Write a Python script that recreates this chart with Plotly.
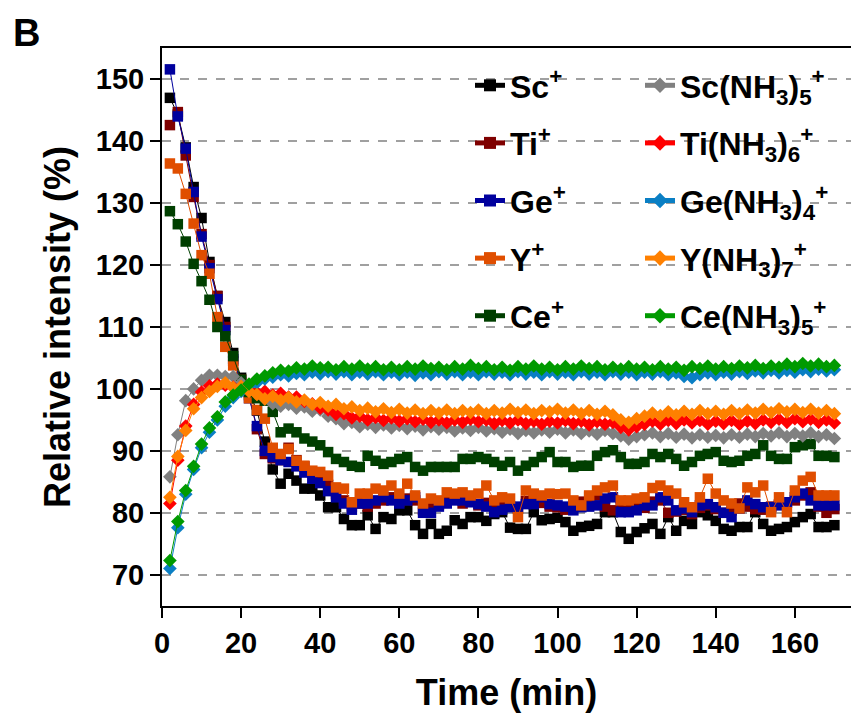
import plotly.graph_objects as go

# Sampling times (min)
time_min = list(range(2, 172, 2))

# Relative intensities (%) of the bare ions
sc_ion = [147.0, 144.3, 139.0, 132.6, 127.6, 120.5, 115.0, 110.8, 105.8, 101.8,
          99.5, 96.5, 91.5, 87.0, 84.7, 86.3, 85.2, 83.9, 83.9, 82.8,
          80.9, 80.9, 79.0, 78.0, 78.0, 79.6, 77.4, 79.3, 79.0, 80.4,
          80.4, 78.0, 76.6, 78.2, 76.6, 77.1, 78.8, 78.2, 79.3, 79.3,
          78.7, 79.8, 80.1, 77.6, 77.4, 77.4, 80.1, 78.8, 79.0, 79.2,
          78.5, 77.1, 77.7, 77.9, 78.2, 80.1, 80.1, 76.9, 75.8, 76.9,
          77.5, 78.2, 76.6, 79.3, 77.1, 78.7, 78.2, 80.1, 79.6, 78.7,
          77.4, 77.1, 77.7, 77.7, 80.1, 78.2, 77.1, 77.4, 77.7, 78.5,
          79.3, 79.8, 77.7, 77.7, 78.0]
ti_ion = [142.6, 144.7, 137.7, 131.0, 125.0, 120.0, 115.0, 110.0, 104.5, 101.5,
          99.0, 93.5, 89.5, 88.8, 88.5, 90.5, 88.5, 87.5, 86.5, 85.5,
          84.5, 83.0, 82.0, 81.0, 81.5, 81.0, 81.5, 82.0, 82.5, 81.8,
          82.3, 82.0, 80.5, 81.0, 81.3, 81.8, 82.2, 81.5, 81.8, 81.2,
          81.6, 80.6, 81.2, 81.0, 80.7, 81.9, 82.2, 81.6, 81.0, 80.9,
          80.5, 81.5, 81.8, 82.6, 82.8, 81.0, 80.4, 80.8, 81.5, 81.0,
          80.8, 81.8, 82.0, 80.0, 80.2, 80.5, 79.8, 80.8, 81.2, 80.6,
          80.0, 80.4, 81.5, 81.0, 80.6, 80.5, 81.0, 81.4, 81.7, 82.0,
          82.8, 83.3, 81.0, 80.0, 80.6]
ge_ion = [151.6, 144.0, 138.8, 131.8, 124.6, 119.5, 114.5, 109.5, 104.8, 101.0,
          98.5, 94.0, 90.0, 89.0, 88.5, 88.2, 87.5, 86.5, 85.5, 84.8,
          83.5, 82.5, 81.5, 80.5, 81.5, 81.5, 82.0, 82.5, 82.0, 81.5,
          82.0, 82.5, 80.0, 80.0, 81.0, 81.5, 82.0, 82.0, 81.7, 81.4,
          81.0, 80.1, 80.5, 80.9, 81.0, 81.4, 81.4, 82.5, 81.4, 81.2,
          81.0, 80.4, 80.9, 81.0, 81.2, 82.3, 82.5, 80.1, 80.1, 80.4,
          81.2, 81.2, 82.5, 82.0, 80.4, 80.7, 80.1, 81.2, 81.4, 80.9,
          80.0, 79.3, 80.7, 82.0, 81.4, 80.9, 80.9, 81.2, 81.7, 82.5,
          83.1, 82.0, 81.2, 81.2, 81.2]
y_ion = [136.4, 135.6, 131.5, 126.7, 121.6, 118.6, 111.6, 106.8, 103.8, 101.0,
         98.5, 96.6, 95.2, 90.5, 89.5, 90.3, 88.4, 87.6, 86.8, 86.6,
         86.0, 84.1, 83.9, 81.7, 83.1, 83.1, 83.9, 83.6, 84.4, 83.1,
         84.7, 82.8, 81.5, 82.3, 82.0, 83.3, 83.1, 83.3, 82.8, 83.1,
         84.4, 82.0, 82.5, 82.3, 79.3, 83.6, 83.1, 82.8, 83.1, 83.0,
         83.1, 82.0, 81.2, 82.8, 83.6, 84.1, 84.4, 82.0, 82.0, 82.3,
         82.5, 84.0, 84.4, 83.6, 83.1, 81.7, 80.9, 82.5, 85.5, 83.1,
         82.0, 81.5, 80.7, 84.1, 83.3, 84.4, 80.1, 82.5, 80.1, 83.6,
         85.2, 85.8, 82.8, 82.8, 82.8]
ce_ion = [128.7, 126.6, 123.8, 120.2, 117.4, 114.4, 110.0, 108.5, 105.3, 101.5,
          99.5, 98.5, 98.1, 96.3, 93.0, 93.6, 93.0, 92.0, 91.5, 90.9,
          89.8, 88.7, 88.2, 87.6, 87.4, 89.2, 88.4, 87.9, 88.2, 88.7,
          89.0, 87.4, 86.8, 87.4, 87.4, 87.4, 87.4, 88.7, 88.7, 89.0,
          88.7, 88.2, 87.6, 88.2, 86.8, 87.6, 88.2, 89.0, 89.8, 88.2,
          88.2, 87.4, 87.6, 87.6, 89.2, 89.8, 90.1, 89.0, 87.9, 87.9,
          88.2, 89.5, 89.0, 89.5, 88.7, 87.6, 88.2, 89.2, 89.5, 89.8,
          88.4, 88.2, 88.4, 89.2, 89.5, 90.9, 89.2, 88.7, 88.7, 90.6,
          90.9, 91.1, 89.2, 89.2, 89.0]

# Relative intensities (%) of the ammonia adducts
sc_nh3 = [85.8, 92.6, 98.1, 100.0, 101.4, 102.2, 102.2, 102.0, 102.0, 101.0,
          100.2, 99.2, 98.4, 97.6, 97.2, 97.5, 96.9, 97.1, 96.4, 96.6,
          95.6, 95.2, 94.4, 94.6, 93.9, 94.3, 93.8, 94.2, 93.7, 94.1,
          93.6, 94.0, 93.4, 93.9, 93.5, 93.8, 93.2, 93.7, 93.3, 93.8,
          93.2, 93.6, 93.0, 93.5, 92.8, 93.3, 92.9, 93.4, 93.0, 93.5,
          92.9, 93.4, 92.8, 93.2, 92.7, 93.3, 92.8, 92.4, 91.9, 92.3,
          92.6, 92.9, 92.3, 92.8, 92.2, 92.7, 92.1, 92.6, 92.2, 92.5,
          92.1, 92.6, 92.2, 92.7, 92.3, 92.8, 92.4, 92.9, 92.3, 92.8,
          92.4, 92.9, 92.3, 92.6, 92.0]
ti_nh3 = [81.5, 88.5, 94.0, 97.5, 99.5, 100.5, 100.8, 100.6, 100.3, 100.0,
          99.9, 99.4, 99.6, 99.0, 99.3, 98.7, 98.7, 98.0, 97.6, 96.9,
          96.6, 95.9, 96.0, 95.3, 95.6, 95.0, 95.4, 94.9, 95.3, 94.8,
          95.2, 94.7, 95.1, 94.6, 95.0, 94.5, 95.0, 94.6, 95.1, 94.7,
          95.0, 94.4, 94.9, 94.5, 95.0, 94.4, 94.8, 94.3, 94.8, 94.5,
          94.9, 94.4, 94.8, 94.2, 94.7, 94.3, 94.6, 93.8, 93.4, 93.9,
          94.3, 94.8, 94.3, 94.9, 94.4, 95.0, 94.5, 94.9, 94.3, 94.8,
          94.4, 94.9, 94.3, 94.8, 94.4, 95.0, 94.6, 95.1, 94.6, 95.2,
          94.7, 95.1, 94.6, 95.0, 94.5]
ge_nh3 = [71.0, 77.6, 83.0, 87.0, 90.5, 93.0, 95.0, 97.2, 98.6, 99.6,
          100.5, 101.0, 101.6, 101.9, 102.3, 102.1, 102.5, 102.3, 102.7, 102.4,
          102.8, 102.4, 102.8, 102.3, 102.7, 102.4, 102.8, 102.3, 102.7, 102.3,
          102.7, 102.2, 102.6, 102.3, 102.8, 102.4, 102.8, 102.3, 102.7, 102.3,
          102.8, 102.4, 102.7, 102.3, 102.8, 102.4, 102.7, 102.3, 102.8, 102.4,
          102.7, 102.3, 102.8, 102.4, 102.7, 102.3, 102.8, 102.4, 102.7, 102.3,
          102.7, 102.4, 102.8, 102.3, 102.6, 102.0, 101.8, 102.3, 102.6, 102.3,
          102.7, 102.4, 102.8, 102.5, 102.9, 102.6, 103.0, 102.6, 103.0, 102.7,
          103.1, 102.8, 103.2, 102.9, 103.1]
y_nh3 = [82.5, 89.1, 93.3, 96.8, 98.6, 99.6, 100.4, 101.0, 100.2, 100.4,
         99.6, 99.1, 98.4, 98.8, 98.2, 98.6, 97.9, 98.2, 97.5, 97.8,
         97.2, 97.5, 96.8, 97.1, 96.5, 96.9, 96.3, 96.8, 96.2, 96.7,
         96.1, 96.6, 96.0, 96.5, 96.1, 96.6, 96.0, 96.5, 96.2, 96.6,
         96.0, 96.5, 96.1, 96.7, 96.2, 96.6, 96.0, 96.5, 96.3, 96.7,
         96.1, 96.6, 96.0, 96.5, 95.9, 96.4, 95.8, 95.0, 94.6, 95.2,
         95.6, 96.1, 95.7, 96.3, 95.8, 96.4, 95.9, 96.5, 96.0, 96.4,
         95.9, 96.5, 96.0, 96.6, 96.1, 96.7, 96.2, 96.8, 96.3, 96.7,
         96.2, 96.7, 96.1, 96.5, 96.0]
ce_nh3 = [72.3, 78.6, 83.6, 87.5, 91.1, 93.7, 95.5, 97.9, 99.0, 99.8,
          100.8, 101.6, 102.1, 102.6, 103.0, 102.9, 103.4, 103.2, 103.7, 103.4,
          103.5, 103.1, 103.6, 103.2, 103.7, 103.2, 103.6, 103.1, 103.5, 103.1,
          103.6, 103.2, 103.7, 103.3, 103.5, 103.1, 103.6, 103.2, 103.8, 103.3,
          103.6, 103.1, 103.5, 103.0, 103.6, 103.2, 103.7, 103.2, 103.5, 103.1,
          103.6, 103.2, 103.7, 103.3, 103.6, 103.1, 103.5, 103.2, 103.6, 103.2,
          103.5, 103.1, 103.6, 103.2, 103.5, 103.0, 103.6, 103.3, 103.7, 103.2,
          103.6, 103.3, 103.7, 103.4, 103.8, 103.3, 103.7, 103.5, 104.0, 103.6,
          104.1, 103.7, 104.0, 103.6, 103.8]

ion_labels = ["Sc<sup>+</sup>", "Ti<sup>+</sup>", "Ge<sup>+</sup>",
              "Y<sup>+</sup>", "Ce<sup>+</sup>"]
adduct_labels = ["Sc(NH<sub>3</sub>)<sub>5</sub><sup>+</sup>",
                 "Ti(NH<sub>3</sub>)<sub>6</sub><sup>+</sup>",
                 "Ge(NH<sub>3</sub>)<sub>4</sub><sup>+</sup>",
                 "Y(NH<sub>3</sub>)<sub>7</sub><sup>+</sup>",
                 "Ce(NH<sub>3</sub>)<sub>5</sub><sup>+</sup>"]
ion_colors = ["#000000", "#7f0000", "#00009e", "#e04e00", "#003f00"]
adduct_colors = ["#808080", "#ff0000", "#0a7fc4", "#ff8000", "#009a00"]

ion_series = [sc_ion, ti_ion, ge_ion, y_ion, ce_ion]
adduct_series = [sc_nh3, ti_nh3, ge_nh3, y_nh3, ce_nh3]

FONT = "Liberation Sans, Arial, sans-serif"

fig = go.Figure()
for i, (name, col, vals) in enumerate(zip(ion_labels, ion_colors, ion_series)):
    fig.add_trace(go.Scatter(
        x=time_min, y=vals, name=name, mode="lines+markers",
        line=dict(color=col, width=1),
        marker=dict(symbol="square", size=10.5, color=col, line=dict(width=0)),
        legend="legend", legendgroup=f"ion{i}"))
for i, (name, col, vals) in enumerate(zip(adduct_labels, adduct_colors, adduct_series)):
    fig.add_trace(go.Scatter(
        x=time_min, y=vals, name=name, mode="lines+markers",
        line=dict(color=col, width=1),
        marker=dict(symbol="diamond", size=10.5, color=col, line=dict(width=0)),
        legend="legend2", legendgroup=f"add{i}"))

W, H = 851, 717
L, R, T, B = 162, 0, 48, 111
pw, ph = W - L - R, H - T - B


def px_x(p):
    return (p - L) / pw


def px_y(p):
    return (H - B - p) / ph


legend_style = dict(
    font=dict(family=FONT, size=32, color="black", weight="bold"),
    bgcolor="rgba(0,0,0,0)", borderwidth=0,
    tracegroupgap=13, yanchor="top", xanchor="left",
    itemsizing="constant",
)

fig.update_layout(
    width=W, height=H,
    margin=dict(l=L, r=R, t=T, b=B),
    plot_bgcolor="white", paper_bgcolor="white",
    font=dict(family=FONT, color="black"),
    legend=dict(x=px_x(470), y=px_y(58), **legend_style),
    legend2=dict(x=px_x(640), y=px_y(58), **legend_style),
    annotations=[dict(text="<b>B</b>", xref="paper", yref="paper",
                      x=px_x(11), y=px_y(10), xanchor="left", yanchor="top",
                      showarrow=False,
                      font=dict(family=FONT, size=38, color="black"))],
)

fig.update_xaxes(
    range=[0, 174.2], tickvals=list(range(0, 161, 20)),
    showline=True, linecolor="black", linewidth=2, mirror=True,
    ticks="outside", ticklen=10, tickwidth=2, tickcolor="black",
    showgrid=False, zeroline=False,
    tickfont=dict(family=FONT, size=29, weight="bold"),
    title=dict(text="Time (min)", standoff=22,
               font=dict(family=FONT, size=36, weight="bold")),
)
fig.update_yaxes(
    range=[64.95, 155.05], tickvals=list(range(70, 151, 10)),
    showline=True, linecolor="black", linewidth=2, mirror=False,
    ticks="outside", ticklen=10, tickwidth=2, tickcolor="black",
    showgrid=True, gridcolor="#a0a0a0", gridwidth=1.5, griddash="dash",
    zeroline=False,
    tickfont=dict(family=FONT, size=29, weight="bold"),
    title=dict(text="Relative intensity (%)", standoff=14,
               font=dict(family=FONT, size=36, weight="bold")),
)

fig.write_html("out.html")
